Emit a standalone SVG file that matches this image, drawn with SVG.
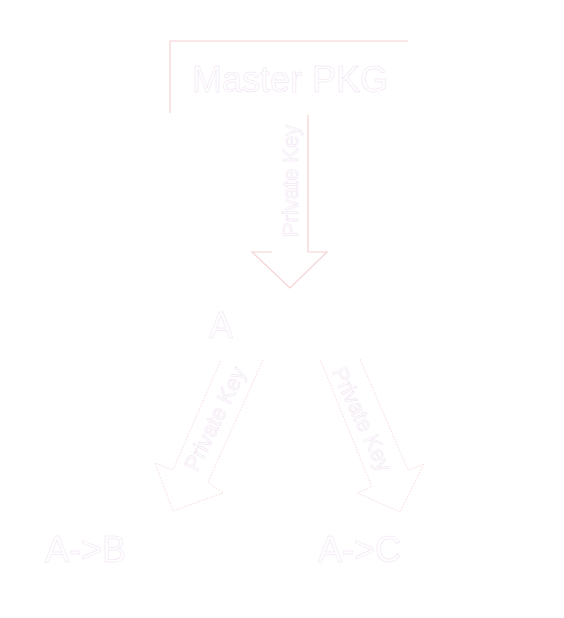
<svg xmlns="http://www.w3.org/2000/svg" width="564" height="618" viewBox="0 0 564 618">
<style>
  .bg { fill: #ffffff; }
  .dot { fill: none; stroke: #f8dcdc; stroke-width: 1; stroke-dasharray: 1.5 1.5; }
  .edge { fill: none; stroke: #f6d2d2; stroke-width: 1.2; }
  .lbl { font-family: "Liberation Sans", Arial, sans-serif; fill: #ffffff; stroke: #f0e2f2; stroke-width: 0.5; }
  .big { font-size: 36px; }
  .arr { font-size: 22px; text-anchor: middle; dominant-baseline: central; }
</style>
<rect class="bg" x="0" y="0" width="564" height="618"/>
<g id="connectors">
  <g id="edge-master-a">
    <polygon points="272,115 308,115 308,252 327,252 290,288 252,252 272,252" fill="#ffffff"/>
    <polyline class="edge" points="308,115 308,252 327,252 290,288 252,252 272,252"/>
    <text class="lbl arr" transform="translate(290,181) rotate(-90)">Private Key</text>
  </g>
  <g id="edge-a-ab">
    <polygon points="221,360 263,360 208,482 223,493 173,511 155,463 173,470" fill="#ffffff"/>
    <polyline class="dot" points="263,360 208,482 223,493 173,511 155,463 173,470 221,360"/>
    <text class="lbl arr" transform="translate(215,419) rotate(-64)">Private Key</text>
  </g>
  <g id="edge-a-ac">
    <polygon points="320,359 360,359 408,470 424,464 400,512 357,493 372,487" fill="#ffffff"/>
    <polyline class="dot" points="360,359 408,470 424,464 400,512 357,493 372,487 320,359"/>
    <text class="lbl arr" transform="translate(362,419) rotate(65)">Private Key</text>
  </g>
</g>
<g id="master-pkg">
  <rect x="170" y="41" width="238" height="72" fill="#ffffff"/>
  <polyline class="edge" points="408,41 170,41 170,113"/>
  <text class="lbl big" x="290" y="92" text-anchor="middle">Master PKG</text>
</g>
<g id="node-a">
  <text class="lbl big" x="209" y="338">A</text>
</g>
<g id="node-ab">
  <text class="lbl big" x="45" y="562">A-&gt;B</text>
</g>
<g id="node-ac">
  <text class="lbl big" x="318" y="562">A-&gt;C</text>
</g>
</svg>
